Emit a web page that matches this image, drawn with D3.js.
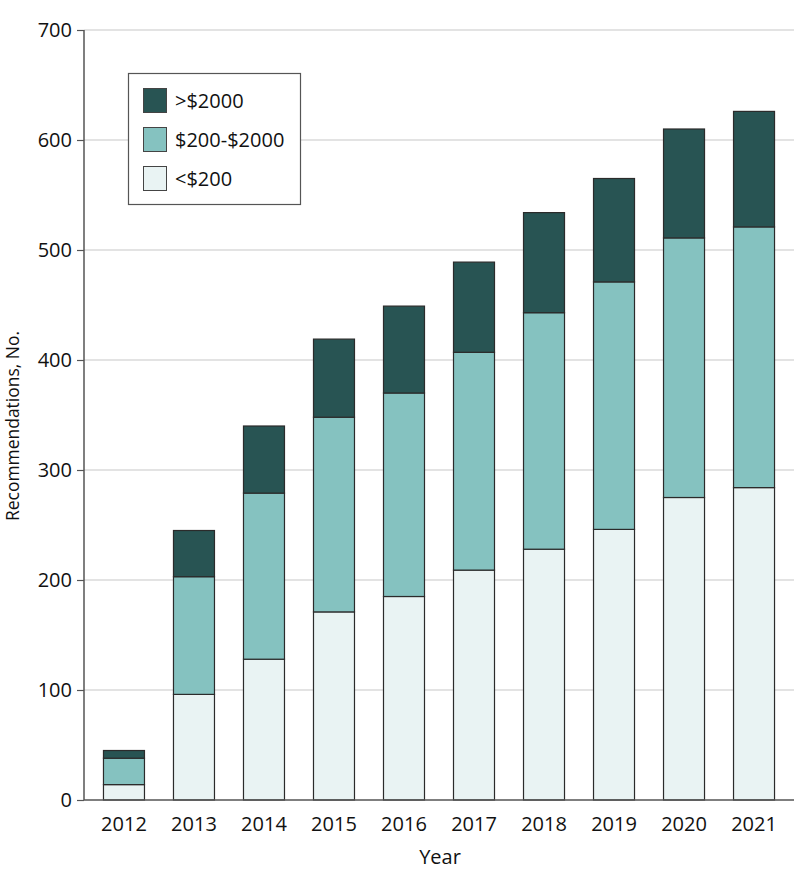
<!DOCTYPE html>
<html>
<head>
<meta charset="utf-8">
<script src="https://cdn.jsdelivr.net/npm/d3@7"></script>
<style>
  body { margin: 0; background: #fff; }
  svg text { font-family: "Open Sans", "Noto Sans", sans-serif; fill: #111; }
</style>
</head>
<body>
<svg id="chart" width="798" height="886"></svg>
<script>
const years = ["2012","2013","2014","2015","2016","2017","2018","2019","2020","2021"];
const under200 = [14, 96, 128, 171, 185, 209, 228, 246, 275, 284];
const mid200to2000 = [24, 107, 151, 177, 185, 198, 215, 225, 236, 237];
const over2000 = [7, 42, 61, 71, 79, 82, 91, 94, 99, 105];
const yTicks = [0, 100, 200, 300, 400, 500, 600, 700];
const seriesKeys = ["low", "mid", "high"];
const seriesLabels = { high: ">$2000", mid: "$200-$2000", low: "<$200" };
const seriesColors = { high: "#285453", mid: "#85c2c0", low: "#e9f3f3" };

const rows = years.map((y, i) => ({ year: y, low: under200[i], mid: mid200to2000[i], high: over2000[i] }));

const svg = d3.select("#chart");
const plotLeft = 84, plotRight = 794, plotTop = 30, plotBottom = 800;
const fontSize = 20;

const x = d3.scaleBand().domain(years).range([plotLeft, plotRight]).paddingInner(0.4).paddingOuter(0.271);
const y = d3.scaleLinear().domain([0, 700]).range([plotBottom, plotTop]);

// gridlines
svg.append("g").selectAll("line").data(yTicks.filter(d => d > 0)).join("line")
  .attr("x1", plotLeft).attr("x2", plotRight)
  .attr("y1", d => y(d)).attr("y2", d => y(d))
  .attr("stroke", "#dadada").attr("stroke-width", 1.5);

// stacked bars
const stack = d3.stack().keys(seriesKeys)(rows);
svg.append("g").selectAll("g").data(stack).join("g")
  .attr("fill", d => seriesColors[d.key])
  .selectAll("rect").data(d => d).join("rect")
  .attr("x", d => x(d.data.year) + 0.5)
  .attr("width", x.bandwidth() - 1)
  .attr("y", d => y(d[1]))
  .attr("height", d => y(d[0]) - y(d[1]))
  .attr("stroke", "#2b2b2b").attr("stroke-width", 1.2);

// y axis
const yAxis = svg.append("g").attr("transform", `translate(${plotLeft},0)`)
  .call(d3.axisLeft(y).tickValues(yTicks).tickSize(7).tickPadding(5));
yAxis.select(".domain").attr("stroke", "#555").attr("stroke-width", 1.5).attr("d", `M0,${plotTop}V${plotBottom}`);
yAxis.selectAll(".tick line").attr("stroke", "#555").attr("stroke-width", 1.2);
yAxis.selectAll(".tick text").attr("font-size", fontSize).attr("fill", "#111").attr("font-family", '"Open Sans", sans-serif');

// x axis
const xAxis = svg.append("g").attr("transform", `translate(0,${plotBottom})`)
  .call(d3.axisBottom(x).tickSize(0).tickPadding(16.5));
xAxis.select(".domain").attr("stroke", "#555").attr("stroke-width", 1.5).attr("d", `M${plotLeft},0H${plotRight}`);
xAxis.selectAll(".tick text").attr("font-size", fontSize).attr("fill", "#111").attr("font-family", '"Open Sans", sans-serif');

// axis titles
svg.append("text").attr("x", 440).attr("y", 864).attr("text-anchor", "middle")
  .attr("font-size", fontSize).text("Year");
svg.append("text").attr("transform", "translate(19,426) rotate(-90)").attr("text-anchor", "middle")
  .attr("font-size", 19).attr("textLength", 190).attr("lengthAdjust", "spacingAndGlyphs")
  .text("Recommendations, No.");

// legend
const lg = svg.append("g");
lg.append("rect").attr("x", 128.5).attr("y", 73.5).attr("width", 172).attr("height", 131)
  .attr("fill", "#fff").attr("stroke", "#555").attr("stroke-width", 1.2);
const legendOrder = ["high", "mid", "low"];
legendOrder.forEach((k, i) => {
  const yy = 88 + i * 39;
  lg.append("rect").attr("x", 143.5).attr("y", yy + 0.5).attr("width", 23).attr("height", 24)
    .attr("fill", seriesColors[k]).attr("stroke", "#444").attr("stroke-width", 1);
  lg.append("text").attr("x", 175).attr("y", yy + 19.5).attr("font-size", fontSize).text(seriesLabels[k]);
});
</script>
</body>
</html>
